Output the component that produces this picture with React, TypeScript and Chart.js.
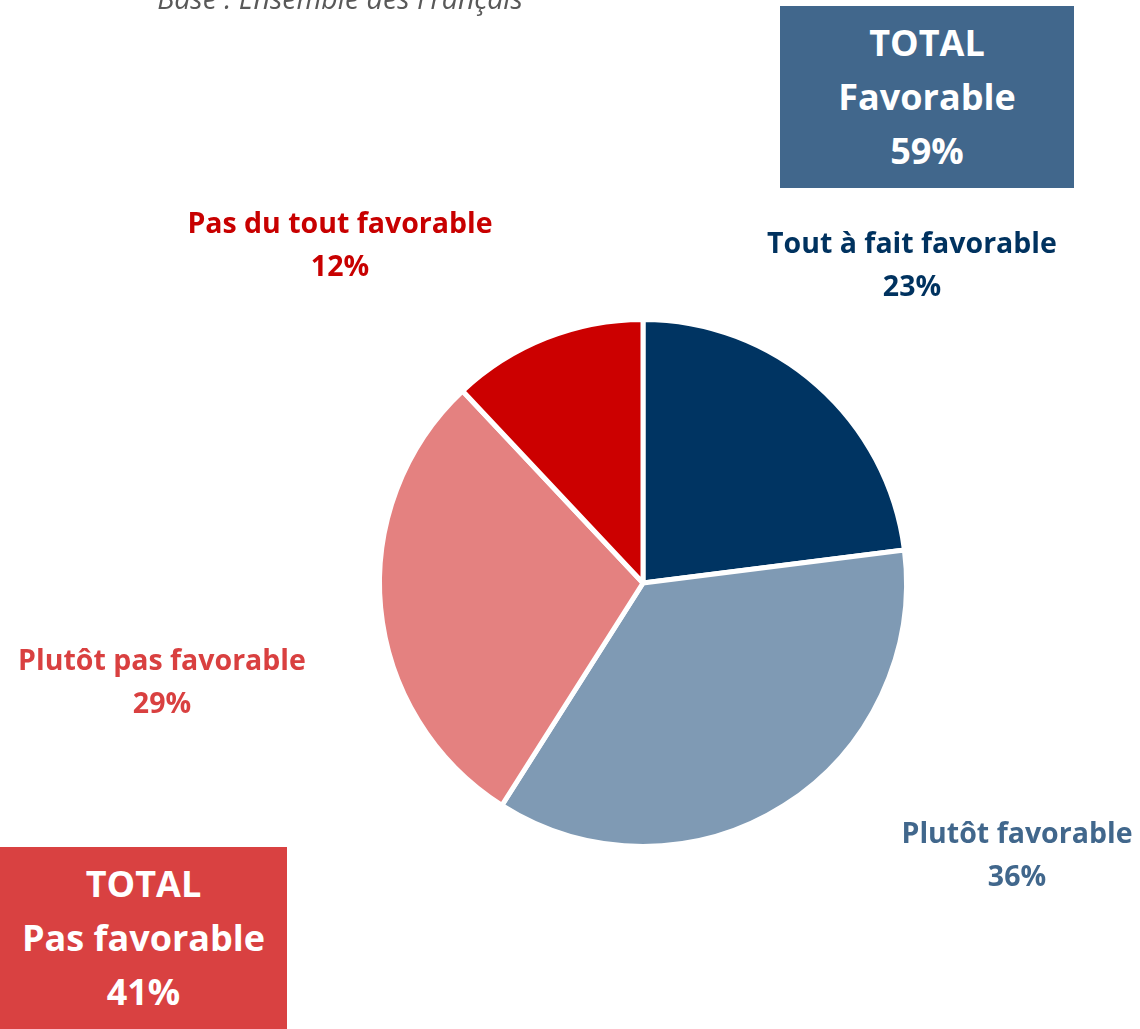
import React, { useEffect, useRef } from "react";
import { Chart, registerables } from "chart.js";

Chart.register(...registerables);

const categories = [
  "Tout à fait favorable",
  "Plutôt favorable",
  "Plutôt pas favorable",
  "Pas du tout favorable",
];
const values = [23, 36, 29, 12];
const sliceColors = ["#003462", "#7F9AB4", "#E48180", "#CC0000"];
const labelColors = ["#00325F", "#41678C", "#D94040", "#C80000"];
const labelPositions = [
  { x: 912, y: 221 },
  { x: 1017, y: 811 },
  { x: 162, y: 638 },
  { x: 340, y: 201 },
];
const totals = [
  { title: "TOTAL", name: "Favorable", value: 59 },
  { title: "TOTAL", name: "Pas favorable", value: 41 },
];
const totalBoxes = [
  { left: 780, top: 6, width: 294, height: 182, color: "#41678C" },
  { left: 0, top: 847, width: 287, height: 182, color: "#D94141" },
];
const baseText = "Base : Ensemble des Français";

const FONT = "'Open Sans', Lato, sans-serif";

export default function App() {
  const ref = useRef<HTMLCanvasElement | null>(null);
  useEffect(() => {
    if (!ref.current) return;
    const chart = new Chart(ref.current, {
      type: "pie",
      data: {
        labels: categories,
        datasets: [
          {
            data: values,
            backgroundColor: sliceColors,
            borderColor: "#ffffff",
            borderWidth: 5,
            hoverOffset: 0,
          },
        ],
      },
      options: {
        responsive: false,
        animation: false,
        layout: { padding: { left: 377, right: 231, top: 317, bottom: 180 } },
        plugins: { legend: { display: false }, tooltip: { enabled: false } },
      },
    });
    return () => chart.destroy();
  }, []);

  return (
    <div
      style={{
        position: "absolute",
        left: 0,
        top: 0,
        width: 1140,
        height: 1029,
        overflow: "hidden",
        background: "#fff",
        fontFamily: FONT,
      }}
    >
      <canvas ref={ref} width={1140} height={1029} style={{ position: "absolute", left: 0, top: 0 }} />
      <div
        style={{
          position: "absolute",
          left: 100,
          width: 480,
          top: -17,
          textAlign: "center",
          fontStyle: "italic",
          fontSize: 28.5,
          lineHeight: "30px",
          color: "#595959",
        }}
      >
        {baseText}
      </div>
      {categories.map((c, i) => (
        <div
          key={c}
          style={{
            position: "absolute",
            left: labelPositions[i].x - 200,
            width: 400,
            top: labelPositions[i].y,
            textAlign: "center",
            fontWeight: 700,
            fontSize: 28.5,
            lineHeight: "43px",
            color: labelColors[i],
          }}
        >
          <div>{c}</div>
          <div>{values[i]}%</div>
        </div>
      ))}
      {totals.map((t, i) => (
        <div
          key={t.name}
          style={{
            position: "absolute",
            left: totalBoxes[i].left,
            top: totalBoxes[i].top,
            width: totalBoxes[i].width,
            height: totalBoxes[i].height,
            background: totalBoxes[i].color,
            color: "#fff",
            fontWeight: 700,
            fontSize: 36,
            lineHeight: "54px",
            textAlign: "center",
            display: "flex",
            flexDirection: "column",
            justifyContent: "center",
          }}
        >
          <div>{t.title}</div>
          <div>{t.name}</div>
          <div>{t.value}%</div>
        </div>
      ))}
    </div>
  );
}
